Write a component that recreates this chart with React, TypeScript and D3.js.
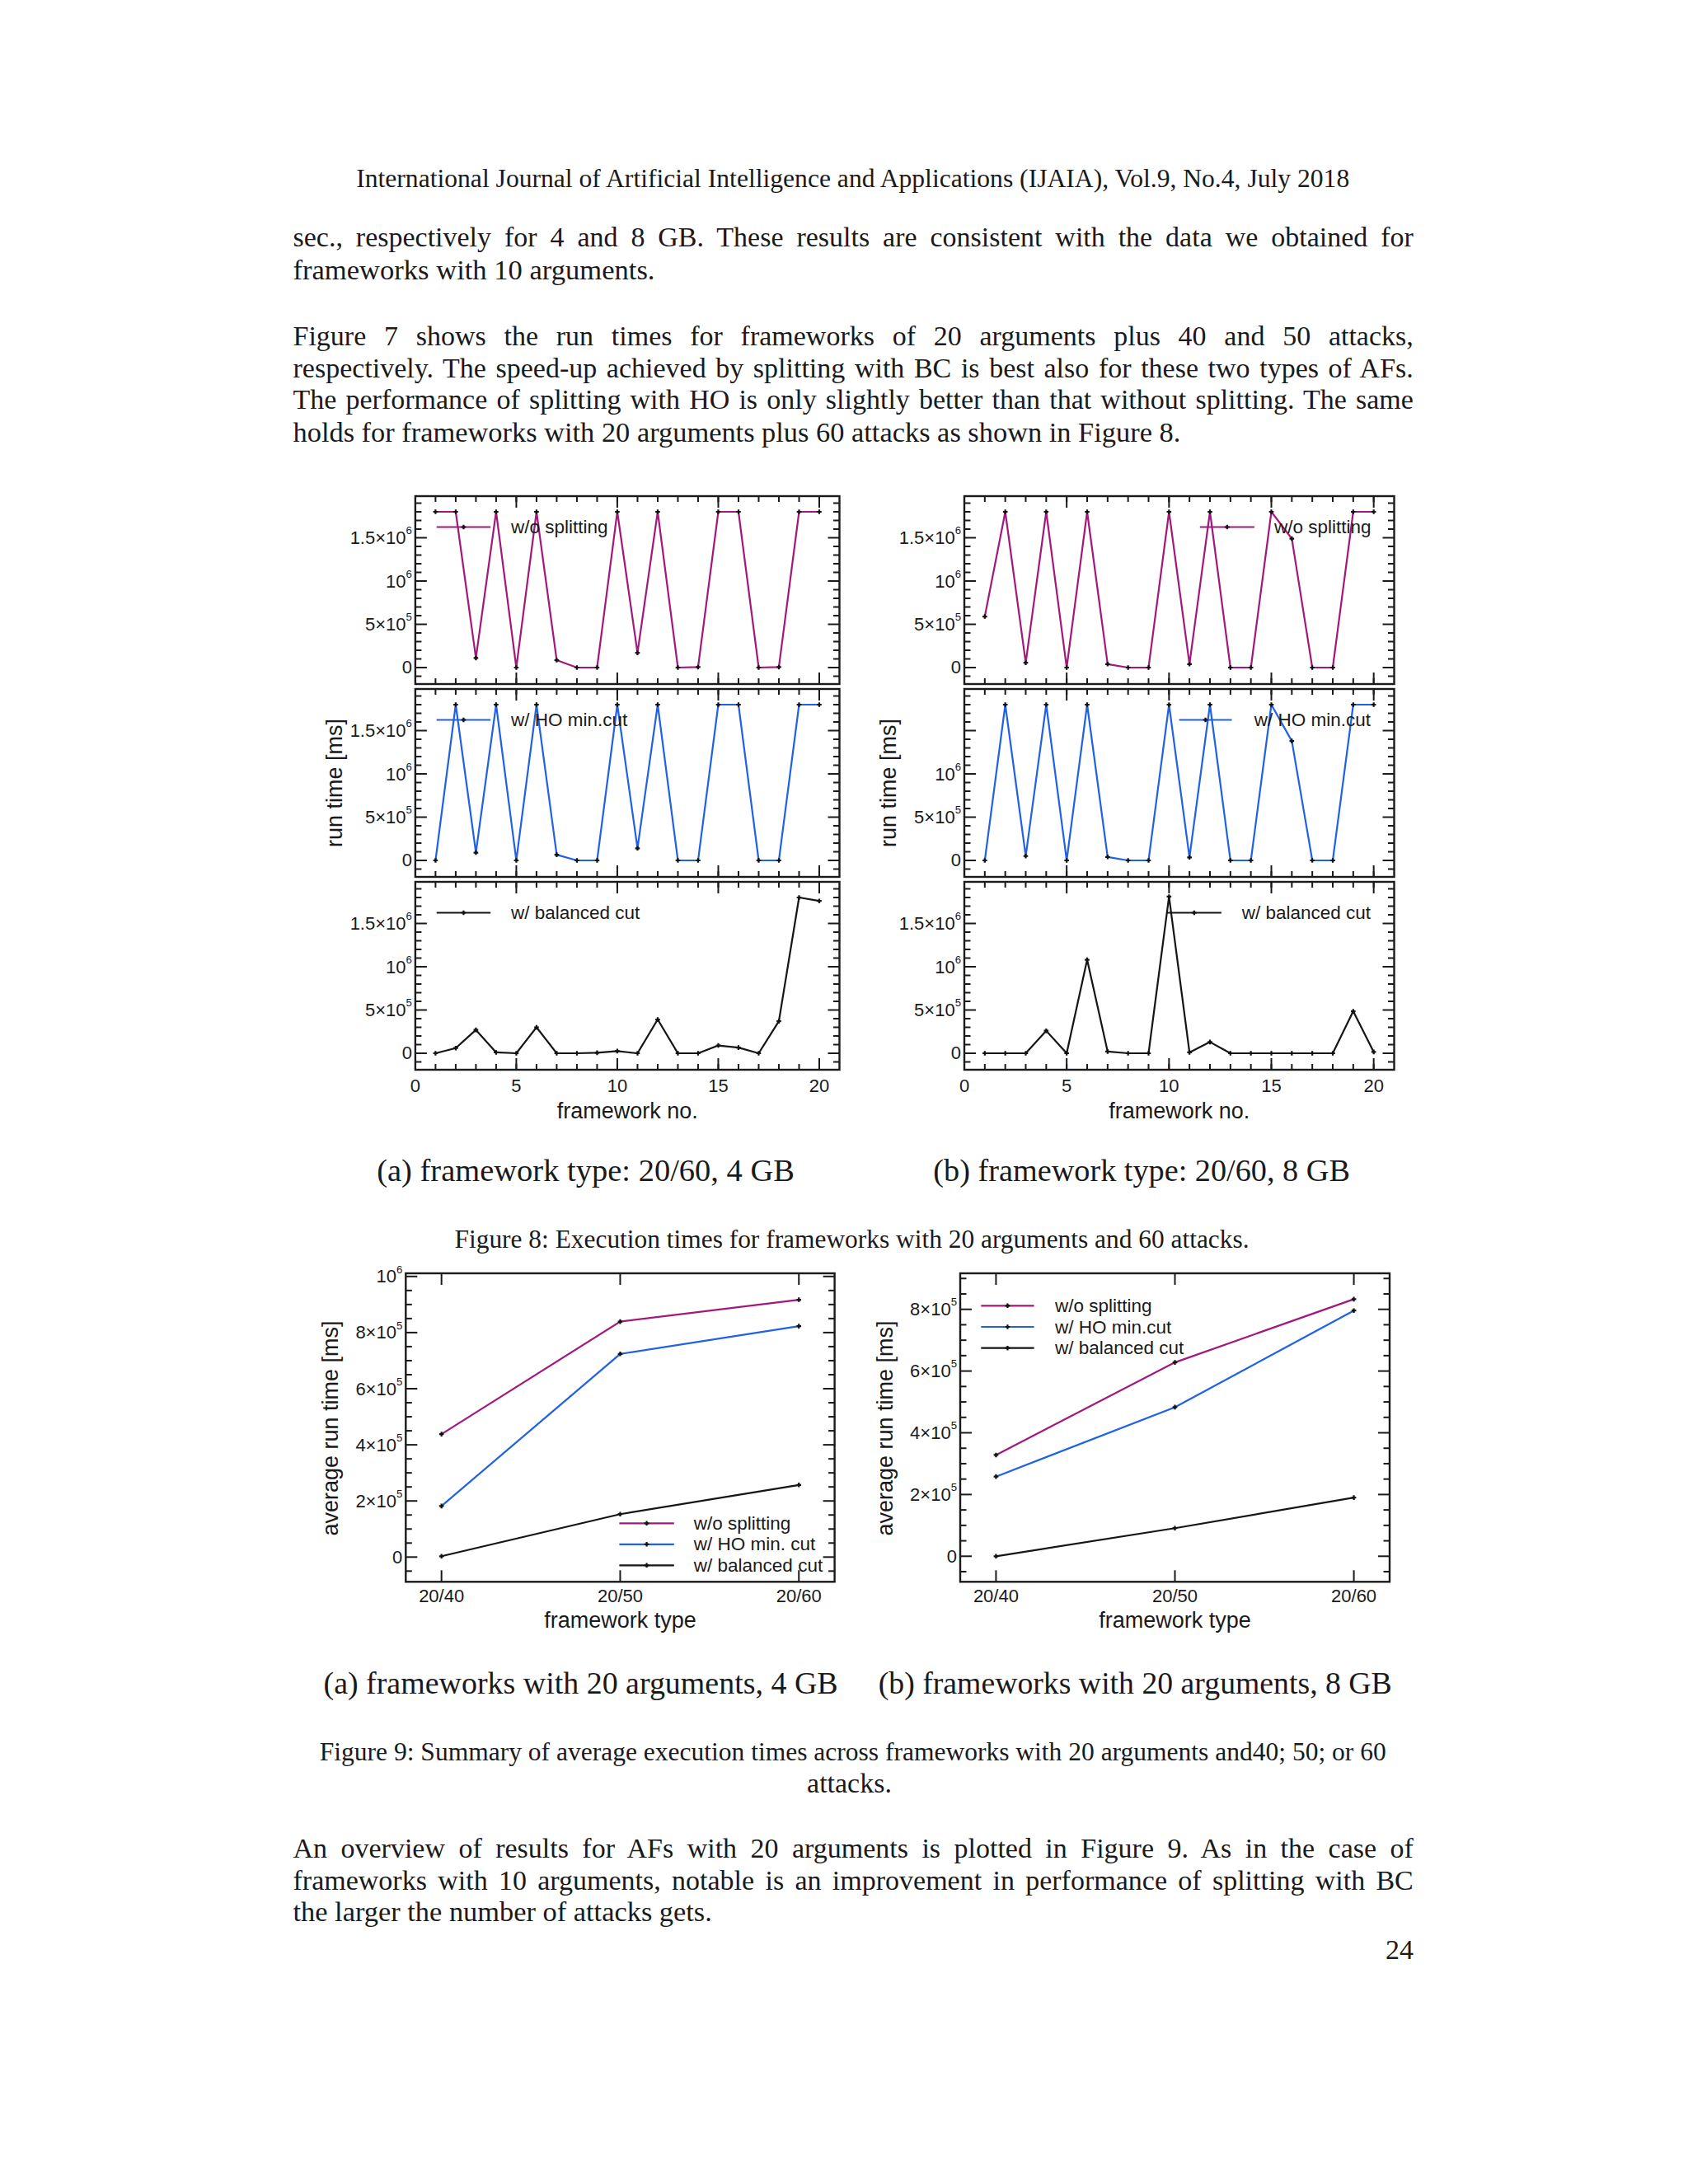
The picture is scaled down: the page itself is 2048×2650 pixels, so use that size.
import React, { useLayoutEffect, useRef, useState } from 'react';
import * as d3 from 'd3';

// ---------------- data ----------------
const frameworkNo = [1, 2, 3, 4, 5, 6, 7, 8, 9, 10, 11, 12, 13, 14, 15, 16, 17, 18, 19, 20];

const fig8aWithoutSplitting = [1.8e6, 1.8e6, 1.1e5, 1.8e6, 0, 1.8e6, 8.5e4, 0, 0, 1.8e6, 1.7e5, 1.8e6, 0, 5e3, 1.8e6, 1.8e6, 0, 5e3, 1.8e6, 1.8e6];
const fig8aHoMinCut = [0, 1.8e6, 9e4, 1.8e6, 0, 1.8e6, 6.5e4, 0, 0, 1.8e6, 1.4e5, 1.8e6, 0, 0, 1.8e6, 1.8e6, 0, 0, 1.8e6, 1.8e6];
const fig8aBalancedCut = [0, 6e4, 2.7e5, 1e4, 0, 3e5, 0, 0, 6e3, 2.5e4, 0, 3.9e5, 0, 0, 9e4, 6.5e4, 0, 3.7e5, 1.8e6, 1.76e6];

const fig8bWithoutSplitting = [5.9e5, 1.8e6, 5.5e4, 1.8e6, 0, 1.8e6, 4e4, 0, 0, 1.8e6, 4e4, 1.8e6, 0, 0, 1.8e6, 1.49e6, 0, 0, 1.8e6, 1.8e6];
const fig8bHoMinCut = [0, 1.8e6, 5e4, 1.8e6, 0, 1.8e6, 4e4, 0, 0, 1.8e6, 3.5e4, 1.8e6, 0, 0, 1.8e6, 1.38e6, 0, 0, 1.8e6, 1.8e6];
const fig8bBalancedCut = [0, 0, 0, 2.6e5, 0, 1.08e6, 2e4, 0, 0, 1.81e6, 1e4, 1.3e5, 0, 0, 0, 0, 0, 0, 4.85e5, 1.5e4];

const fig9Types = ['20/40', '20/50', '20/60'];
const fig9aWithoutSplitting = [4.38e5, 8.39e5, 9.17e5];
const fig9aHoMinCut = [1.82e5, 7.24e5, 8.23e5];
const fig9aBalancedCut = [3e3, 1.53e5, 2.57e5];
const fig9bWithoutSplitting = [3.28e5, 6.28e5, 8.33e5];
const fig9bHoMinCut = [2.58e5, 4.83e5, 7.96e5];
const fig9bBalancedCut = [0, 9.1e4, 1.9e5];

const fig8Names = ['w/o splitting', 'w/ HO min.cut', 'w/ balanced cut'];
const fig9aNames = ['w/o splitting', 'w/ HO min. cut', 'w/ balanced cut'];
const fig9bNames = ['w/o splitting', 'w/ HO min.cut', 'w/ balanced cut'];

const fig8YTickLabels = [0, 5e5, 1e6, 1.5e6];
const fig8bHoYTickLabels = [0, 5e5, 1e6];
const fig8XTickLabels = [0, 5, 10, 15, 20];
const fig9aYTickLabels = [0, 2e5, 4e5, 6e5, 8e5, 1e6];
const fig9bYTickLabels = [0, 2e5, 4e5, 6e5, 8e5];

const COLOR_WO = '#a2197c';
const COLOR_HO = '#2161e4';
const COLOR_BC = '#151515';

const SANS = "'Liberation Sans', Arial, Helvetica, sans-serif";
const SERIF = "'Liberation Serif', 'Times New Roman', serif";
const INK = '#1a1a1a';

// ---------------- helpers ----------------
function SciLabel({ v, x, y, fs, anchor = 'end' }: { v: number; x: number; y: number; fs: number; anchor?: string }) {
  if (v === 0) {
    return (
      <text x={x} y={y} textAnchor={anchor} dominantBaseline="central" fontSize={fs} fontFamily={SANS} fill={INK}>0</text>
    );
  }
  const e = Math.floor(Math.log10(v) + 1e-9);
  const m = +(v / Math.pow(10, e)).toFixed(2);
  return (
    <text x={x} y={y} textAnchor={anchor} dominantBaseline="central" fontSize={fs} fontFamily={SANS} fill={INK}>
      {m === 1 ? '' : `${m}×`}10
      <tspan dy={-fs * 0.42} fontSize={fs * 0.6}>{e}</tspan>
    </text>
  );
}

function Marker({ cx, cy }: { cx: number; cy: number }) {
  return (
    <path d={`M${cx - 2.8},${cy}H${cx + 2.8}M${cx},${cy - 2.8}V${cy + 2.8}`} stroke="#111" strokeWidth={2.2} />
  );
}

// Text that is measured after layout: 'justify' widens word gaps, 'fit' scales the font size.
function FitText({ text, x, y, width, mode, fs, anchor = 'start', family }: {
  text: string; x: number; y: number; width?: number; mode: 'justify' | 'fit' | 'none'; fs: number; anchor?: string; family: string;
}) {
  const ref = useRef<SVGTextElement>(null);
  const [ws, setWs] = useState(0);
  const [size, setSize] = useState(fs);
  useLayoutEffect(() => {
    const el = ref.current;
    if (!el || !width || mode === 'none') return;
    const natural = el.getComputedTextLength();
    if (mode === 'justify') {
      const spaces = (text.match(/ /g) || []).length;
      if (spaces > 0) setWs((width - natural) / spaces);
    } else {
      setSize(fs * width / natural);
    }
  }, [text, width, mode, fs]);
  return (
    <text ref={ref} x={x} y={y} textAnchor={anchor} fontSize={size} fontFamily={family} fill={INK}
      style={{ wordSpacing: `${ws}px`, whiteSpace: 'pre' }}>{text}</text>
  );
}

type Fig8PanelProps = {
  left: number; right: number; top: number;
  values: number[]; color: string;
  tickLabels: number[];
  legend: { name: string; lx1: number; lx2: number; tx: number; anchor: string };
  xLabels: boolean;
};

const P8_H = 228;

function Fig8Panel({ left, right, top, values, color, tickLabels, legend, xLabels }: Fig8PanelProps) {
  const x = d3.scaleLinear().domain([0, 21]).range([left, right]);
  const y = d3.scaleLinear().domain([-1.905e5, 1.981e6]).range([top + P8_H, top]);
  const bottom = top + P8_H;
  const line = d3.line<number>().x((_, i) => x(frameworkNo[i])).y(d => y(d));
  const minorX = d3.range(1, 21);
  const majorX = [5, 10, 15, 20];
  const minorY = d3.range(-1e5, 2e6, 1e5).filter(v => y(v) > top + 1 && y(v) < bottom - 1 && v % 5e5 !== 0);
  const majorY = [0, 5e5, 1e6, 1.5e6];
  const ly = top + 37.5;
  return (
    <g>
      {minorX.map(v => (
        <g key={'mx' + v}>
          <line x1={x(v)} x2={x(v)} y1={bottom} y2={bottom - 7} stroke={INK} strokeWidth={2} />
          <line x1={x(v)} x2={x(v)} y1={top} y2={top + 7} stroke={INK} strokeWidth={2} />
        </g>
      ))}
      {majorX.map(v => (
        <g key={'Mx' + v}>
          <line x1={x(v)} x2={x(v)} y1={bottom} y2={bottom - 14} stroke={INK} strokeWidth={2} />
          <line x1={x(v)} x2={x(v)} y1={top} y2={top + 14} stroke={INK} strokeWidth={2} />
        </g>
      ))}
      {minorY.map(v => (
        <g key={'my' + v}>
          <line x1={left} x2={left + 7.5} y1={y(v)} y2={y(v)} stroke={INK} strokeWidth={2} />
          <line x1={right} x2={right - 7.5} y1={y(v)} y2={y(v)} stroke={INK} strokeWidth={2} />
        </g>
      ))}
      {majorY.map(v => (
        <g key={'My' + v}>
          <line x1={left} x2={left + 14} y1={y(v)} y2={y(v)} stroke={INK} strokeWidth={2} />
          <line x1={right} x2={right - 14} y1={y(v)} y2={y(v)} stroke={INK} strokeWidth={2} />
        </g>
      ))}
      {tickLabels.map(v => (
        <SciLabel key={'yl' + v} v={v} x={left - 4} y={y(v)} fs={22} />
      ))}
      <path d={line(values) || ''} fill="none" stroke={color} strokeWidth={2.2} strokeLinejoin="round" />
      {values.map((v, i) => (
        <Marker key={'pt' + i} cx={x(frameworkNo[i])} cy={y(v)} />
      ))}
      <line x1={legend.lx1} x2={legend.lx2} y1={ly} y2={ly} stroke={color} strokeWidth={2.2} />
      <Marker cx={(legend.lx1 + legend.lx2) / 2} cy={ly} />
      <text x={legend.tx} y={ly} textAnchor={legend.anchor} dominantBaseline="central" fontSize={22.5} fontFamily={SANS} fill={INK}>{legend.name}</text>
      <rect x={left} y={top} width={right - left} height={P8_H} fill="none" stroke={INK} strokeWidth={2.4} />
      {xLabels && fig8XTickLabels.map(v => (
        <text key={'xl' + v} x={x(v)} y={bottom + 19} textAnchor="middle" dominantBaseline="central" fontSize={22} fontFamily={SANS} fill={INK}>{v}</text>
      ))}
      {xLabels && (
        <text x={(left + right) / 2} y={bottom + 49.5} textAnchor="middle" dominantBaseline="central" fontSize={27} fontFamily={SANS} fill={INK}>framework no.</text>
      )}
    </g>
  );
}

type Fig9Props = {
  left: number; right: number; top: number; bottom: number;
  yDomain: [number, number];
  series: number[][];
  names: string[];
  tickLabels: number[];
  legend: { lx1: number; lx2: number; tx: number; y0: number; dy: number };
  yLabelX: number;
};

function Fig9Chart({ left, right, top, bottom, yDomain, series, names, tickLabels, legend, yLabelX }: Fig9Props) {
  const x = d3.scaleLinear().domain([-0.2, 2.2]).range([left, right]);
  const y = d3.scaleLinear().domain(yDomain).range([bottom, top]);
  const colors = [COLOR_WO, COLOR_HO, COLOR_BC];
  const line = d3.line<number>().x((_, i) => x(i)).y(d => y(d));
  const minorY = d3.range(-5e4, 1.05e6, 5e4).filter(v => y(v) > top + 1 && y(v) < bottom - 1 && Math.round(v) % 2e5 !== 0);
  const majorY = d3.range(0, 1.05e6, 2e5).filter(v => y(v) >= top - 1);
  return (
    <g>
      {fig9Types.map((t, i) => (
        <g key={'xt' + t}>
          <line x1={x(i)} x2={x(i)} y1={bottom} y2={bottom - 14} stroke={INK} strokeWidth={2} />
          <line x1={x(i)} x2={x(i)} y1={top} y2={top + 14} stroke={INK} strokeWidth={2} />
          <text x={x(i)} y={bottom + 17.5} textAnchor="middle" dominantBaseline="central" fontSize={22} fontFamily={SANS} fill={INK}>{t}</text>
        </g>
      ))}
      {minorY.map(v => (
        <g key={'my' + v}>
          <line x1={left} x2={left + 7.5} y1={y(v)} y2={y(v)} stroke={INK} strokeWidth={2} />
          <line x1={right} x2={right - 7.5} y1={y(v)} y2={y(v)} stroke={INK} strokeWidth={2} />
        </g>
      ))}
      {majorY.map(v => (
        <g key={'My' + v}>
          <line x1={left} x2={left + 14} y1={y(v)} y2={y(v)} stroke={INK} strokeWidth={2} />
          <line x1={right} x2={right - 14} y1={y(v)} y2={y(v)} stroke={INK} strokeWidth={2} />
        </g>
      ))}
      {tickLabels.map(v => (
        <SciLabel key={'yl' + v} v={v} x={left - 4} y={y(v)} fs={22} />
      ))}
      {series.map((s, k) => (
        <g key={'s' + k}>
          <path d={line(s) || ''} fill="none" stroke={colors[k]} strokeWidth={2.2} />
          {s.map((v, i) => (
            <Marker key={'p' + i} cx={x(i)} cy={y(v)} />
          ))}
        </g>
      ))}
      {names.map((n, k) => {
        const ly = legend.y0 + k * legend.dy;
        return (
          <g key={'lg' + k}>
            <line x1={legend.lx1} x2={legend.lx2} y1={ly} y2={ly} stroke={colors[k]} strokeWidth={2.2} />
            <Marker cx={(legend.lx1 + legend.lx2) / 2} cy={ly} />
            <text x={legend.tx} y={ly} dominantBaseline="central" fontSize={22.5} fontFamily={SANS} fill={INK}>{n}</text>
          </g>
        );
      })}
      <rect x={left} y={top} width={right - left} height={bottom - top} fill="none" stroke={INK} strokeWidth={2.4} />
      <text x={(left + right) / 2} y={1966} textAnchor="middle" dominantBaseline="central" fontSize={27} fontFamily={SANS} fill={INK}>framework type</text>
      <text transform={`translate(${yLabelX},1733) rotate(-90)`} textAnchor="middle" fontSize={27} fontFamily={SANS} fill={INK}>average run time [ms]</text>
    </g>
  );
}

// ---------------- page text ----------------
const BODY_LEFT = 355.5;
const BODY_WIDTH = 1359.3;

type Line = { t: string; y: number; w?: number; x?: number; anchor?: string; fs?: number; mode: 'justify' | 'fit' | 'none' };

const textLines: Line[] = [
  { t: 'International Journal of Artificial Intelligence and Applications (IJAIA), Vol.9, No.4, July 2018', x: 432.2, y: 227, w: 1205.8, mode: 'fit' },
  { t: 'sec., respectively for 4 and 8 GB. These results are consistent with the data we obtained for', y: 299, w: BODY_WIDTH, mode: 'justify' },
  { t: 'frameworks with 10 arguments.', y: 339, w: 439.2, mode: 'fit' },
  { t: 'Figure 7 shows the run times for frameworks of 20 arguments plus 40 and 50 attacks,', y: 419, w: BODY_WIDTH, mode: 'justify' },
  { t: 'respectively. The speed-up achieved by splitting with BC is best also for these two types of AFs.', y: 457.5, w: BODY_WIDTH, mode: 'justify' },
  { t: 'The performance of splitting with HO is only slightly better than that without splitting. The same', y: 496, w: BODY_WIDTH, mode: 'justify' },
  { t: 'holds for frameworks with 20 arguments plus 60 attacks as shown in Figure 8.', y: 535.5, w: 1077.3, mode: 'fit' },
  { t: '(a) framework type: 20/60, 4 GB', x: 457.2, y: 1433, w: 506.8, mode: 'fit' },
  { t: '(b) framework type: 20/60, 8 GB', x: 1132.3, y: 1433, w: 505.8, mode: 'fit' },
  { t: 'Figure 8: Execution times for frameworks with 20 arguments and 60 attacks.', x: 551.5, y: 1514, w: 964.5, mode: 'fit' },
  { t: '(a) frameworks with 20 arguments, 4 GB', x: 392.5, y: 2055, w: 624.2, mode: 'fit' },
  { t: '(b) frameworks with 20 arguments, 8 GB', x: 1065.7, y: 2055, w: 623.2, mode: 'fit' },
  { t: 'Figure 9: Summary of average execution times across frameworks with 20 arguments and40; 50; or 60', x: 387.8, y: 2136, w: 1294.7, mode: 'fit' },
  { t: 'attacks.', x: 1030.5, y: 2174.5, anchor: 'middle', mode: 'none' },
  { t: 'An overview of results for AFs with 20 arguments is plotted in Figure 9. As in the case of', y: 2254, w: BODY_WIDTH, mode: 'justify' },
  { t: 'frameworks with 10 arguments, notable is an improvement in performance of splitting with BC', y: 2293, w: BODY_WIDTH, mode: 'justify' },
  { t: 'the larger the number of attacks gets.', y: 2331, w: 508.6, mode: 'fit' },
  { t: '24', x: 1715, y: 2377, anchor: 'end', mode: 'none' },
];

export default function App() {
  const A_L = 503.9, A_R = 1018.5, B_L = 1170, B_R = 1691.5;
  const tops = [602, 836, 1070];
  return (
    <svg width={2048} height={2650} viewBox="0 0 2048 2650" style={{ position: 'absolute', left: 0, top: 0, background: '#fff' }}>
      <rect x={0} y={0} width={2048} height={2650} fill="#fff" />
      {textLines.map((l, i) => (
        <FitText key={'t' + i} text={l.t} x={l.x ?? BODY_LEFT} y={l.y} width={l.w} mode={l.mode} fs={l.fs || 34} anchor={l.anchor} family={SERIF} />
      ))}

      {/* Figure 8 (a) */}
      <Fig8Panel left={A_L} right={A_R} top={tops[0]} values={fig8aWithoutSplitting} color={COLOR_WO} tickLabels={fig8YTickLabels}
        legend={{ name: fig8Names[0], lx1: A_L + 25.8, lx2: A_L + 91.3, tx: A_L + 116, anchor: 'start' }} xLabels={false} />
      <Fig8Panel left={A_L} right={A_R} top={tops[1]} values={fig8aHoMinCut} color={COLOR_HO} tickLabels={fig8YTickLabels}
        legend={{ name: fig8Names[1], lx1: A_L + 25.8, lx2: A_L + 91.3, tx: A_L + 116, anchor: 'start' }} xLabels={false} />
      <Fig8Panel left={A_L} right={A_R} top={tops[2]} values={fig8aBalancedCut} color={COLOR_BC} tickLabels={fig8YTickLabels}
        legend={{ name: fig8Names[2], lx1: A_L + 25.8, lx2: A_L + 91.3, tx: A_L + 116, anchor: 'start' }} xLabels={true} />
      <text transform="translate(415,950) rotate(-90)" textAnchor="middle" fontSize={27} fontFamily={SANS} fill={INK}>run time [ms]</text>

      {/* Figure 8 (b) */}
      <Fig8Panel left={B_L} right={B_R} top={tops[0]} values={fig8bWithoutSplitting} color={COLOR_WO} tickLabels={fig8YTickLabels}
        legend={{ name: fig8Names[0], lx1: 1455.8, lx2: 1521.9, tx: 1663.5, anchor: 'end' }} xLabels={false} />
      <Fig8Panel left={B_L} right={B_R} top={tops[1]} values={fig8bHoMinCut} color={COLOR_HO} tickLabels={fig8bHoYTickLabels}
        legend={{ name: fig8Names[1], lx1: 1430.6, lx2: 1494.5, tx: 1663, anchor: 'end' }} xLabels={false} />
      <Fig8Panel left={B_L} right={B_R} top={tops[2]} values={fig8bBalancedCut} color={COLOR_BC} tickLabels={fig8YTickLabels}
        legend={{ name: fig8Names[2], lx1: 1415.8, lx2: 1481.9, tx: 1663, anchor: 'end' }} xLabels={true} />
      <text transform="translate(1087,950) rotate(-90)" textAnchor="middle" fontSize={27} fontFamily={SANS} fill={INK}>run time [ms]</text>

      {/* Figure 9 (a) */}
      <Fig9Chart left={492.3} right={1012.6} top={1545} bottom={1919.3} yDomain={[-8.81e4, 1.0112e6]}
        series={[fig9aWithoutSplitting, fig9aHoMinCut, fig9aBalancedCut]} names={fig9aNames} tickLabels={fig9aYTickLabels}
        legend={{ lx1: 751.4, lx2: 817.8, tx: 841.8, y0: 1848.3, dy: 25.5 }} yLabelX={410} />
      {/* Figure 9 (b) */}
      <Fig9Chart left={1165} right={1686} top={1545} bottom={1919.3} yDomain={[-8.28e4, 9.167e5]}
        series={[fig9bWithoutSplitting, fig9bHoMinCut, fig9bBalancedCut]} names={fig9bNames} tickLabels={fig9bYTickLabels}
        legend={{ lx1: 1190.3, lx2: 1254.6, tx: 1279.9, y0: 1584.3, dy: 25.7 }} yLabelX={1083} />
    </svg>
  );
}
